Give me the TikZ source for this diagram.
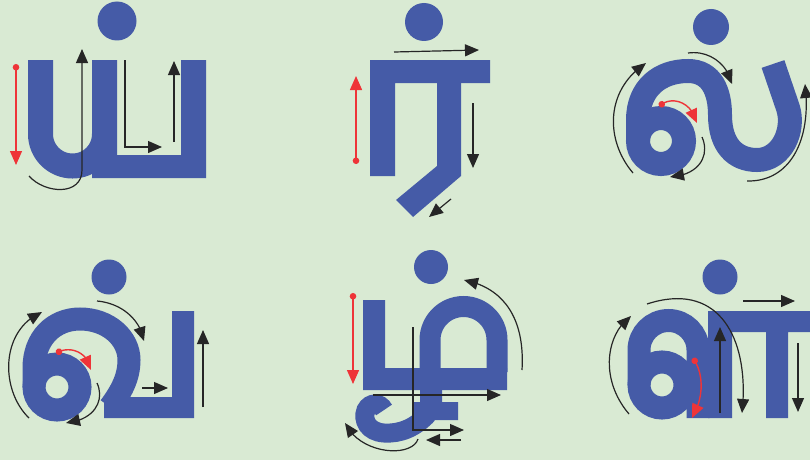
\documentclass[tikz,border=0pt]{standalone}
\usepackage{xcolor}
\usepackage{tikz}
\usetikzlibrary{arrows.meta,bending}
\definecolor{paper}{RGB}{217,234,211}
\definecolor{inkblue}{RGB}{69,91,167}
\definecolor{inkred}{RGB}{238,52,56}
\definecolor{inkdark}{RGB}{38,38,38}

\begin{document}
\begin{tikzpicture}[x=1pt,y=-1pt,
glyph/.style={draw=inkblue,line width=24pt},
blkarr/.style={draw=inkdark,line width=1.2pt,-{Triangle[length=14pt,width=12pt]}},
redarr/.style={draw=inkred,line width=1.4pt,{Circle[length=6.5pt]}-{Triangle[length=14pt,width=12pt]}}]
\fill[paper](0,0)rectangle(810,460);
\useasboundingbox(0,0)rectangle(810,460);
% ய்
\fill[inkblue](117,21)circle[radius=19.5];
\draw[glyph,line width=25pt](40.5,60)--(40.5,134)arc(180:0:32);
\fill[inkblue](92,60)rectangle(117,178) (96,155)rectangle(206,178) (181,60)rectangle(206,178);
% ர்
\fill[inkblue](424,22)circle[radius=19];
\fill[inkblue](370,60)rectangle(490,83) (370,60)rectangle(395,176);
\fill[inkblue](437,83)--(461,83)--(461,176)--(413,217)--(396,200)--(437,166)--cycle;
% ல்
\fill[inkblue](711,27)circle[radius=18];
\draw[glyph](661,141)circle[radius=23];
\draw[glyph](638,141)--(638,120)..controls(638,88)and(660,71)..(688,71)
..controls(712,71)and(720,92)..(720,115)..controls(720,145)and(735,160)..(757,160)
..controls(782,160)and(795,130)..(788,108)--(773,64);
% வ்
\fill[inkblue](109,277)circle[radius=17.5];
\draw[glyph,line width=23pt](57,387)circle[radius=23];
\draw[glyph,line width=23pt](34,387)--(34,368)..controls(34,338)and(54,319)..(80,319)
..controls(108,319)and(129,338)..(129,360)..controls(129,378)and(121,392)..(110,407);
\fill[inkblue](104,397)rectangle(194,418) (172,311)rectangle(194,418);
% ழ்
\fill[inkblue](431,267)circle[radius=17];
\fill[inkblue](363,300)rectangle(385,390) (363,368)rectangle(507,390);
\draw[glyph,line width=21pt](430,372)--(430,340)arc(180:360:33.5)--(497,372);
\fill[inkblue](420,388)rectangle(442,403) (413,402)rectangle(458,420);
\draw[glyph,line width=19pt](428,414)..controls(415,428)and(400,434)..(384,433)
..controls(368,432)and(362,420)..(366,410)..controls(370,402)and(380,402)..(384,410);
% ள்
\fill[inkblue](720,277)circle[radius=17.5];
\draw[glyph,line width=23pt](662,385)circle[radius=23];
\draw[glyph,line width=23pt](639,385)--(639,350)arc(180:360:29.5)--(698,418);
\fill[inkblue](708,311)rectangle(810,332) (708,311)rectangle(732,418) (766,311)rectangle(788,418);
% arrows
\draw[redarr](16,64)--(16,165);
\draw[blkarr](29,176)..controls(45,194)and(82,196)..(82,170)--(82,49);
\draw[blkarr](125,60)--(125,147)--(162,147);
\draw[blkarr](174,142)--(174,61);
\draw[blkarr](394,52)--(479,50);
\draw[redarr](356,164)--(356,76);
\draw[blkarr](473,103)--(473,168);
\draw[blkarr](451,199)--(429,217);
\draw[blkarr](633,173)..controls(605,140)and(605,90)..(646,63);
\draw[blkarr](688,53)..controls(710,50)and(728,65)..(732,84);
\draw[redarr](659,106)..controls(672,95)and(692,102)..(697,123);
\draw[blkarr](702,137)..controls(710,155)and(700,175)..(670,177);
\draw[blkarr](747,181)..controls(790,182)and(812,140)..(805,84);
\draw[blkarr](29,418)..controls(0,390)and(0,330)..(42,312);
\draw[blkarr](97,301)..controls(120,303)and(140,318)..(144,341);
\draw[redarr](56,353)..controls(70,345)and(88,352)..(91,370);
\draw[blkarr](97,383)..controls(105,400)and(95,420)..(66,423);
\draw[blkarr](142,388)--(168,388);
\draw[blkarr](203,407)--(203,330);
\draw[redarr](353,293)--(353,384);
\draw[blkarr](522,370)..controls(525,320)and(505,288)..(464,280);
\draw[blkarr](373,395)--(501,395);
\draw[blkarr](413,327)--(413,430)--(464,430);
\draw[blkarr](461,440)--(426,440);
\draw[blkarr](418,439)..controls(412,458)and(360,455)..(345,423);
\draw[blkarr](629,414)..controls(600,380)and(605,335)..(631,316);
\draw[blkarr](647,304)..controls(720,280)and(750,340)..(742,413);
\draw[redarr](693,358)..controls(705,375)and(703,400)..(692,418);
\draw[blkarr](720,413)--(720,327);
\draw[blkarr](743,301)--(795,301);
\draw[blkarr](798,343)--(798,412);
\end{tikzpicture}
\end{document}
